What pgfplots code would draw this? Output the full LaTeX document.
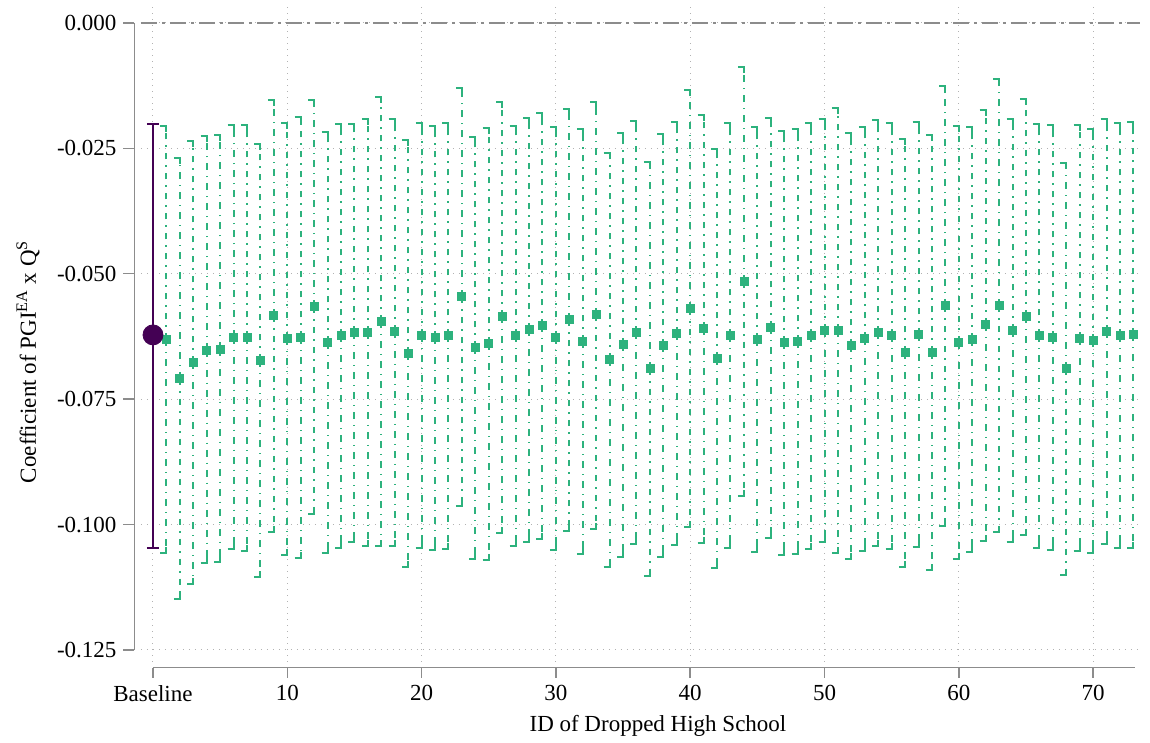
\documentclass[border=0pt]{standalone}
\usepackage{fontspec}
\setmainfont{Liberation Serif}
\usepackage{pgfplots}
\pgfplotsset{compat=1.18}
\usepackage{pgfplotstable}

\definecolor{estgreen}{HTML}{2DB27D}
\definecolor{basepurple}{HTML}{440154}
\definecolor{axisgray}{HTML}{8C8C8C}

% caps of the confidence intervals: a short stroke to the left of the bar
\pgfdeclareplotmark{topcap}{%
  \pgfpathmoveto{\pgfqpoint{-\pgfplotmarksize}{0pt}}%
  \pgfpathlineto{\pgfqpoint{0pt}{0pt}}%
  \pgfpathlineto{\pgfqpoint{0pt}{-\pgfplotmarksize}}%
  \pgfusepathqstroke}
\pgfdeclareplotmark{botcap}{%
  \pgfpathmoveto{\pgfqpoint{-\pgfplotmarksize}{0pt}}%
  \pgfpathlineto{\pgfqpoint{0pt}{0pt}}%
  \pgfpathlineto{\pgfqpoint{0pt}{\pgfplotmarksize}}%
  \pgfusepathqstroke}
\pgfdeclareplotmark{fullcap}{%
  \pgfpathmoveto{\pgfqpoint{-\pgfplotmarksize}{0pt}}%
  \pgfpathlineto{\pgfqpoint{\pgfplotmarksize}{0pt}}%
  \pgfusepathqstroke}

% estimate and 95% interval after dropping each high school
\pgfplotstableread{
id b hi lo
1 -0.0631 -0.0205 -0.1056
2 -0.0709 -0.0270 -0.1149
3 -0.0677 -0.0235 -0.1118
4 -0.0652 -0.0225 -0.1076
5 -0.0650 -0.0223 -0.1075
6 -0.0626 -0.0204 -0.1049
7 -0.0627 -0.0204 -0.1052
8 -0.0673 -0.0241 -0.1104
9 -0.0584 -0.0154 -0.1014
10 -0.0629 -0.0199 -0.1061
11 -0.0627 -0.0188 -0.1067
12 -0.0566 -0.0154 -0.0979
13 -0.0637 -0.0217 -0.1057
14 -0.0623 -0.0202 -0.1046
15 -0.0617 -0.0202 -0.1035
16 -0.0617 -0.0191 -0.1042
17 -0.0595 -0.0148 -0.1042
18 -0.0615 -0.0191 -0.1042
19 -0.0659 -0.0233 -0.1085
20 -0.0623 -0.0199 -0.1047
21 -0.0627 -0.0205 -0.1051
22 -0.0623 -0.0199 -0.1048
23 -0.0546 -0.0130 -0.0963
24 -0.0647 -0.0228 -0.1068
25 -0.0639 -0.0210 -0.1071
26 -0.0585 -0.0157 -0.1016
27 -0.0623 -0.0205 -0.1042
28 -0.0611 -0.0190 -0.1035
29 -0.0603 -0.0180 -0.1028
30 -0.0627 -0.0207 -0.1050
31 -0.0592 -0.0171 -0.1012
32 -0.0635 -0.0212 -0.1058
33 -0.0582 -0.0157 -0.1008
34 -0.0671 -0.0259 -0.1084
35 -0.0641 -0.0220 -0.1064
36 -0.0617 -0.0195 -0.1039
37 -0.0689 -0.0278 -0.1103
38 -0.0643 -0.0221 -0.1065
39 -0.0619 -0.0197 -0.1041
40 -0.0570 -0.0134 -0.1005
41 -0.0609 -0.0183 -0.1037
42 -0.0669 -0.0251 -0.1087
43 -0.0623 -0.0199 -0.1046
44 -0.0516 -0.0088 -0.0944
45 -0.0631 -0.0207 -0.1054
46 -0.0607 -0.0189 -0.1026
47 -0.0637 -0.0215 -0.1060
48 -0.0635 -0.0212 -0.1059
49 -0.0623 -0.0199 -0.1049
50 -0.0613 -0.0191 -0.1034
51 -0.0613 -0.0169 -0.1057
52 -0.0643 -0.0220 -0.1068
53 -0.0629 -0.0207 -0.1053
54 -0.0617 -0.0193 -0.1043
55 -0.0623 -0.0199 -0.1049
56 -0.0657 -0.0232 -0.1084
57 -0.0621 -0.0197 -0.1045
58 -0.0657 -0.0223 -0.1090
59 -0.0564 -0.0126 -0.1003
60 -0.0637 -0.0205 -0.1068
61 -0.0631 -0.0208 -0.1055
62 -0.0601 -0.0173 -0.1032
63 -0.0564 -0.0112 -0.1015
64 -0.0613 -0.0191 -0.1035
65 -0.0585 -0.0151 -0.1020
66 -0.0623 -0.0201 -0.1047
67 -0.0627 -0.0204 -0.1051
68 -0.0689 -0.0279 -0.1100
69 -0.0629 -0.0204 -0.1053
70 -0.0633 -0.0211 -0.1056
71 -0.0615 -0.0192 -0.1039
72 -0.0623 -0.0199 -0.1047
73 -0.0621 -0.0197 -0.1046
}\dropped

\begin{document}
\begin{tikzpicture}
\useasboundingbox (-70.45pt,-40.5pt) rectangle (504.55pt,331pt);
\begin{axis}[
  scale only axis, width=499.6pt, height=328.6pt,
  xmin=-0.9, xmax=73.5, ymin=-0.1274, ymax=0.0036,
  clip=false,
  axis line style={draw=none},
  major tick length=0pt,
  xtick={0,10,20,30,40,50,60,70},
  xticklabels={Baseline,10,20,30,40,50,60,70},
  ytick={-0.125,-0.1,-0.075,-0.05,-0.025,0},
  yticklabels={-0.125,-0.100,-0.075,-0.050,-0.025,0.000},
  grid=major,
  major grid style={gray!60, line width=0.5pt, dash pattern=on 0.5pt off 2.5pt},
  tick label style={font=\fontsize{11.5}{13}\selectfont, text=black},
  xticklabel style={anchor=north, inner sep=0pt, yshift=-11.5pt},
  yticklabel style={anchor=east, inner sep=0pt, xshift=-12pt},
  xlabel={ID of Dropped High School},
  ylabel={Coefficient of PGI\textsuperscript{EA} x Q\textsuperscript{S}},
  label style={font=\fontsize{11.5}{13}\selectfont},
  xlabel style={at={(axis description cs:0.5175,-0.0974)}, anchor=center},
  ylabel style={at={(axis description cs:-0.113,0.457)}, anchor=center},
]

% reference line at zero
\addplot[axisgray, line width=0.75pt, dash pattern=on 8pt off 2.5pt on 1.5pt off 2.5pt, forget plot]
  coordinates {(-0.9,0) (73.5,0)};

% intervals after dropping one school
\addplot[draw=none, mark=none, forget plot,
  error bars/.cd, y dir=both, y explicit, error mark=none,
  error bar style={estgreen, line width=1pt, dash pattern=on 3.3pt off 3pt on 0.7pt off 3pt}]
  table[x=id, y=b,
        y error plus expr=\thisrow{hi}-\thisrow{b},
        y error minus expr=\thisrow{b}-\thisrow{lo}] {\dropped};
\addplot[only marks, mark=topcap, mark size=3pt, forget plot,
  mark options={draw=estgreen, solid, line width=1pt}]
  table[x=id, y=hi] {\dropped};
\addplot[only marks, mark=botcap, mark size=3pt, forget plot,
  mark options={draw=estgreen, solid, line width=1pt}]
  table[x=id, y=lo] {\dropped};
\addplot[only marks, mark=square*, mark size=2pt, forget plot,
  mark options={draw=estgreen, fill=estgreen}]
  table[x=id, y=b] {\dropped};

% baseline estimate with full sample
\addplot[draw=none, mark=none, forget plot,
  error bars/.cd, y dir=both, y explicit, error mark=none,
  error bar style={basepurple, line width=1pt, solid}]
  coordinates {(0,-0.0622) += (0,0.0420) -= (0,0.0424)};
\addplot[only marks, mark=fullcap, mark size=3pt, forget plot,
  mark options={draw=basepurple, solid, line width=1pt}]
  coordinates {(0,-0.0202) (0,-0.1046)};
\addplot[only marks, mark=*, mark size=5pt, forget plot,
  mark options={draw=basepurple, fill=basepurple}]
  coordinates {(0,-0.0622)};

% offset axis lines and ticks
\draw[axisgray, line width=0.75pt]
  ([yshift=-2.85pt]axis cs:0,-0.1274) -- ([yshift=-2.85pt]axis cs:73.1,-0.1274);
\pgfplotsinvokeforeach{0,10,20,30,40,50,60,70}{
  \draw[axisgray, line width=0.75pt]
    ([yshift=-2.85pt]axis cs:#1,-0.1274) -- ([yshift=-8pt]axis cs:#1,-0.1274);
}
\draw[axisgray, line width=0.75pt]
  ([xshift=-3.2pt]axis cs:-0.9,0) -- ([xshift=-3.2pt]axis cs:-0.9,-0.125);
\pgfplotsinvokeforeach{0,-0.025,-0.05,-0.075,-0.1,-0.125}{
  \draw[axisgray, line width=0.75pt]
    ([xshift=-3.2pt]axis cs:-0.9,#1) -- ([xshift=-8.95pt]axis cs:-0.9,#1);
}
\end{axis}
\end{tikzpicture}
\end{document}
